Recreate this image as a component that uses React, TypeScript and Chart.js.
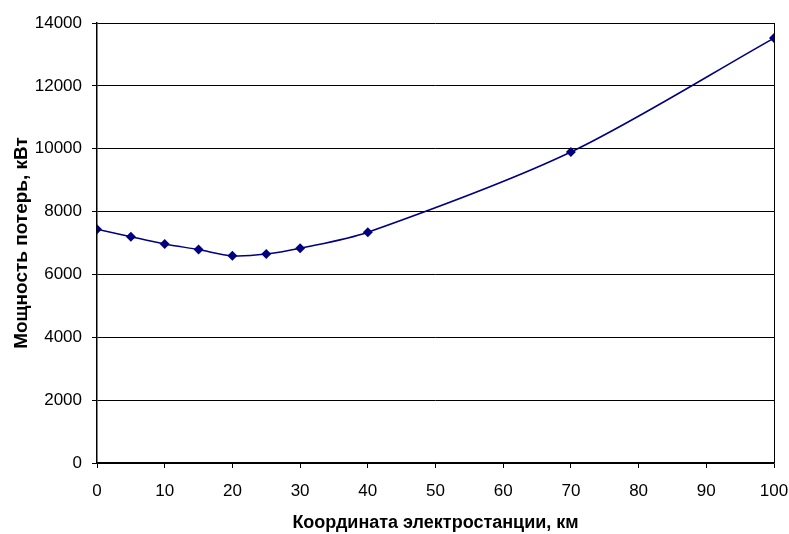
import React, { useEffect, useRef } from "react";
import { Chart, registerables } from "chart.js";

Chart.register(...registerables);

const xValues = [0, 5, 10, 15, 20, 25, 30, 40, 70, 100];
const yValues = [7440, 7200, 6970, 6790, 6595, 6650, 6830, 7340, 9895, 13520];
const xTitle = "Координата электростанции, км";
const yTitle = "Мощность потерь, кВт";

const borderPlugin = {
  id: "rightBorder",
  afterDraw(chart: any) {
    const { ctx, chartArea } = chart;
    ctx.save();
    ctx.strokeStyle = "#000";
    ctx.lineWidth = 1;
    ctx.beginPath();
    ctx.moveTo(Math.round(chartArea.right) + 0.5, chartArea.top);
    ctx.lineTo(Math.round(chartArea.right) + 0.5, chartArea.bottom);
    ctx.stroke();
    ctx.restore();
  },
};

export default function App() {
  const ref = useRef<HTMLCanvasElement>(null);
  useEffect(() => {
    const chart = new Chart(ref.current!, {
      type: "line",
      data: {
        datasets: [
          {
            data: xValues.map((x, i) => ({ x, y: yValues[i] })),
            borderColor: "#000080",
            backgroundColor: "#000080",
            borderWidth: 1.5,
            pointStyle: "rectRot",
            pointRadius: 5,
            pointBorderWidth: 0,
            tension: 0.3,
            fill: false,
          },
        ],
      },
      options: {
        responsive: false,
        animation: false,
        layout: { padding: { top: 23, right: 15, left: 0, bottom: 0 } },
        plugins: { legend: { display: false }, tooltip: { enabled: false } },
        scales: {
          x: {
            type: "linear",
            min: 0,
            max: 100,
            ticks: {
              stepSize: 10,
              color: "#000",
              font: { family: "Liberation Sans", size: 17 },
              padding: 13,
              callback: (v: any) => String(v),
            },
            grid: { drawOnChartArea: false, color: "#000", tickLength: 5, tickColor: "#000" },
            border: { color: "#000", width: 1.5 },
            title: {
              display: true,
              text: xTitle,
              color: "#000",
              font: { family: "Liberation Sans", size: 18, weight: "bold" },
              padding: { top: 0, bottom: 0 },
            },
            afterFit: (s: any) => { s.height = 71; s.paddingRight = 0; s.paddingLeft = 0; },
          },
          y: {
            min: 0,
            max: 14000,
            ticks: {
              stepSize: 2000,
              color: "#000",
              font: { family: "Liberation Sans", size: 17 },
              padding: 10,
              callback: (v: any) => String(v),
            },
            grid: { color: "#000", tickLength: 5, tickColor: "#000" },
            border: { color: "#000", width: 1.5 },
            title: {
              display: true,
              text: yTitle,
              color: "#000",
              font: { family: "Liberation Sans", size: 19, weight: "bold" },
              padding: { top: 10, bottom: 0 },
            },
            afterFit: (s: any) => { s.width = 97; },
          },
        },
      },
      plugins: [borderPlugin],
    });
    return () => chart.destroy();
  }, []);
  return (
    <div style={{ position: "absolute", left: 0, top: 0, width: 789, height: 534, background: "#fff" }}>
      <canvas ref={ref} width={789} height={534} />
    </div>
  );
}
